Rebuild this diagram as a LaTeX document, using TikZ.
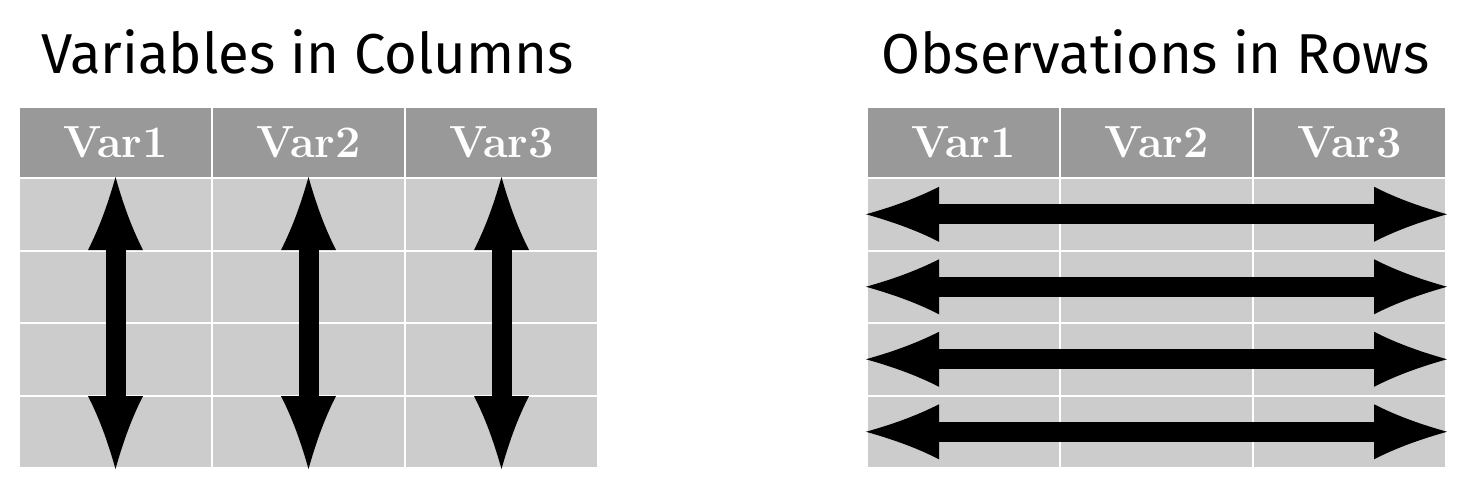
\documentclass[tikz,border=0pt]{standalone}
\usepackage{fontspec}
\usetikzlibrary{arrows.meta}
\newfontfamily\handfont{Fira Sans}
\definecolor{headgray}{HTML}{999999}
\definecolor{cellgray}{HTML}{CCCCCC}

\pgfdeclarearrow{
  name = Horn,
  defaults = {length = 7.3mm, width = 5.5mm},
  setup code = {
    \pgfarrowssettipend{0pt}
    \pgfarrowssetbackend{-\pgfarrowlength}
    \pgfarrowssetlineend{-.5\pgfarrowlength}
    \pgfarrowssetvisualbackend{-\pgfarrowlength}
    \pgfarrowshullpoint{0pt}{0pt}
    \pgfarrowsupperhullpoint{-\pgfarrowlength}{.5\pgfarrowwidth}
    \pgfarrowssavethe\pgfarrowlength
    \pgfarrowssavethe\pgfarrowwidth
  },
  drawing code = {
    \pgfpathmoveto{\pgfqpoint{0pt}{0pt}}
    \pgfpathcurveto{\pgfpoint{-.333\pgfarrowlength}{.125\pgfarrowwidth}}{\pgfpoint{-.667\pgfarrowlength}{.275\pgfarrowwidth}}{\pgfpoint{-\pgfarrowlength}{.5\pgfarrowwidth}}
    \pgfpathlineto{\pgfpoint{-\pgfarrowlength}{-.5\pgfarrowwidth}}
    \pgfpathcurveto{\pgfpoint{-.667\pgfarrowlength}{-.275\pgfarrowwidth}}{\pgfpoint{-.333\pgfarrowlength}{-.125\pgfarrowwidth}}{\pgfqpoint{0pt}{0pt}}
    \pgfpathclose
    \pgfusepathqfill
  },
  parameters = {\the\pgfarrowlength,\the\pgfarrowwidth},
}

\tikzset{
  cell/.style={rectangle, draw=white, line width=0.2mm, fill=cellgray, inner sep=0pt,
    minimum width=19.3mm, minimum height=7.25mm, anchor=north west},
  headcell/.style={cell, fill=headgray, minimum height=7.1mm, text=white,
    font=\fontsize{12.8}{15}\selectfont\bfseries},
  title/.style={font=\handfont\fontsize{16}{19}\selectfont},
  bigarrow/.style={line width=2mm, {Horn}-{Horn}}
}

\begin{document}
\begin{tikzpicture}[x=0.1mm, y=-0.1mm]
\useasboundingbox (0,0) rectangle (1463,484);

\node[title] (ltitle) at (307.5,52) {Variables in Columns};
\node[title] (rtitle) at (1155.5,52) {Observations in Rows};

\foreach \c in {0,1,2} {
  \pgfmathtruncatemacro{\v}{\c+1}
  \node[headcell] (lh\c) at (18+193*\c,106) {Var\v};
  \node[headcell] (rh\c) at (866+193*\c,106) {Var\v};
  \foreach \r in {1,...,4} {
    \node[cell] (l\r\c) at (18+193*\c,177+72.5*\r-72.5) {};
    \node[cell] (r\r\c) at (866+193*\c,177+72.5*\r-72.5) {};
  }
}

\foreach \c in {0,1,2}
  \draw[bigarrow] (l4\c.south) -- (l1\c.north);
\foreach \r in {1,...,4}
  \draw[bigarrow] (r\r0.west) -- (r\r2.east);
\end{tikzpicture}
\end{document}
